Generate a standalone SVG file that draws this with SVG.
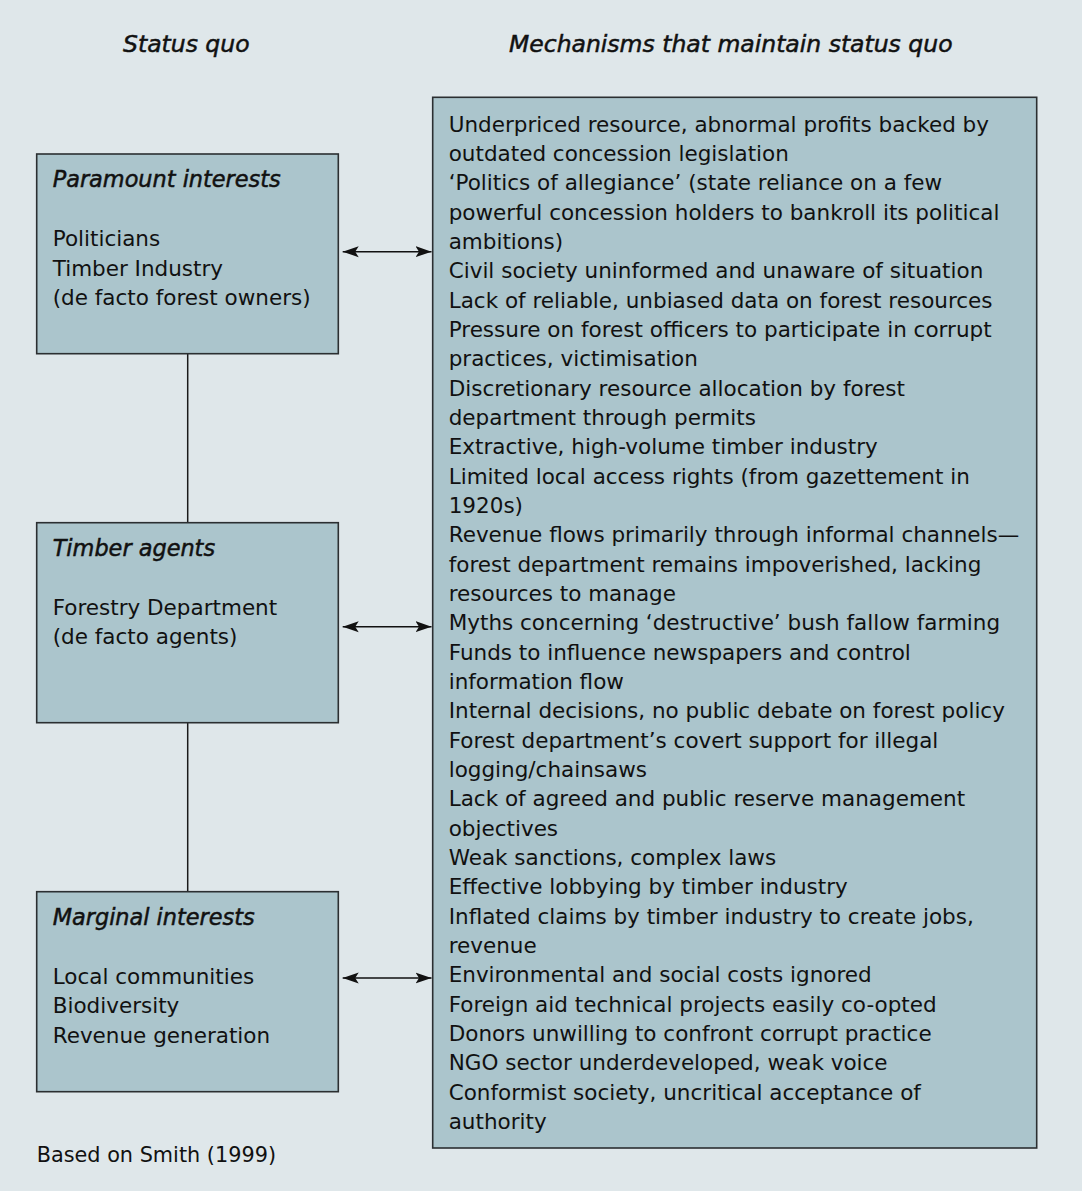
<svg xmlns="http://www.w3.org/2000/svg" width="1082" height="1191" viewBox="0 0 1082 1191">
<style>
.bg{fill:#dfe7ea}
.box{fill:#abc5cc;stroke:#2b2f31;stroke-width:1.6}
.t{font-family:"DejaVu Sans",Verdana,sans-serif;font-size:21.5px;fill:#111}
.h{font-family:"DejaVu Sans",Verdana,sans-serif;font-size:23.5px;font-style:italic;fill:#111;stroke:#111;stroke-width:0.5}
.bt{font-family:"DejaVu Sans",Verdana,sans-serif;font-size:22.4px;font-style:italic;fill:#111;stroke:#111;stroke-width:0.5}
.ln{stroke:#1a1a1a;stroke-width:1.5;fill:none}
.ar{stroke:#111;stroke-width:1.6;fill:none;marker-start:url(#ah);marker-end:url(#ah)}
</style>
<defs>
<marker id="ah" markerUnits="userSpaceOnUse" markerWidth="17" markerHeight="13" refX="16" refY="6" orient="auto-start-reverse" viewBox="0 0 17 13">
<path d="M0,0.5 L16,6 L0,11.5 L3.5,6 Z" fill="#111"/>
</marker>
</defs>
<rect class="bg" x="0" y="0" width="1082" height="1191"/>
<text class="h" x="123" y="51.7">Status quo</text>
<text class="h" x="509" y="51.7">Mechanisms that maintain status quo</text>

<g id="connectors">
<line class="ln" x1="187.7" y1="353.7" x2="187.7" y2="522.7"/>
<line class="ln" x1="187.7" y1="722.7" x2="187.7" y2="891.7"/>
<line class="ar" x1="342.7" y1="251.7" x2="431.5" y2="251.7"/>
<line class="ar" x1="342.7" y1="626.7" x2="431.5" y2="626.7"/>
<line class="ar" x1="342.7" y1="978" x2="431.5" y2="978"/>
</g>

<g id="paramount">
<rect class="box" x="36.7" y="154" width="301.6" height="199.7"/>
<text class="bt" x="52.7" y="186.7">Paramount interests</text>
<text class="t" x="52.7" y="246">Politicians</text>
<text class="t" x="52.7" y="275.5">Timber Industry</text>
<text class="t" x="52.7" y="305">(de facto forest owners)</text>
</g>

<g id="timber-agents">
<rect class="box" x="36.7" y="522.7" width="301.6" height="200"/>
<text class="bt" x="52.7" y="555.7">Timber agents</text>
<text class="t" x="52.7" y="614.5">Forestry Department</text>
<text class="t" x="52.7" y="644">(de facto agents)</text>
</g>

<g id="marginal">
<rect class="box" x="36.7" y="891.7" width="301.6" height="200"/>
<text class="bt" x="52.7" y="924.5">Marginal interests</text>
<text class="t" x="52.7" y="983.5">Local communities</text>
<text class="t" x="52.7" y="1013">Biodiversity</text>
<text class="t" x="52.7" y="1042.5">Revenue generation</text>
</g>

<g id="mechanisms">
<rect class="box" x="432.7" y="97.3" width="604" height="1050.7"/>
<text class="t">
<tspan x="448.7" y="131.7">Underpriced resource, abnormal profits backed by</tspan>
<tspan x="448.7" dy="29.33">outdated concession legislation</tspan>
<tspan x="448.7" dy="29.33">‘Politics of allegiance’ (state reliance on a few</tspan>
<tspan x="448.7" dy="29.33">powerful concession holders to bankroll its political</tspan>
<tspan x="448.7" dy="29.33">ambitions)</tspan>
<tspan x="448.7" dy="29.33">Civil society uninformed and unaware of situation</tspan>
<tspan x="448.7" dy="29.33">Lack of reliable, unbiased data on forest resources</tspan>
<tspan x="448.7" dy="29.33">Pressure on forest officers to participate in corrupt</tspan>
<tspan x="448.7" dy="29.33">practices, victimisation</tspan>
<tspan x="448.7" dy="29.33">Discretionary resource allocation by forest</tspan>
<tspan x="448.7" dy="29.33">department through permits</tspan>
<tspan x="448.7" dy="29.33">Extractive, high-volume timber industry</tspan>
<tspan x="448.7" dy="29.33">Limited local access rights (from gazettement in</tspan>
<tspan x="448.7" dy="29.33">1920s)</tspan>
<tspan x="448.7" dy="29.33">Revenue flows primarily through informal channels—</tspan>
<tspan x="448.7" dy="29.33">forest department remains impoverished, lacking</tspan>
<tspan x="448.7" dy="29.33">resources to manage</tspan>
<tspan x="448.7" dy="29.33">Myths concerning ‘destructive’ bush fallow farming</tspan>
<tspan x="448.7" dy="29.33">Funds to influence newspapers and control</tspan>
<tspan x="448.7" dy="29.33">information flow</tspan>
<tspan x="448.7" dy="29.33">Internal decisions, no public debate on forest policy</tspan>
<tspan x="448.7" dy="29.33">Forest department’s covert support for illegal</tspan>
<tspan x="448.7" dy="29.33">logging/chainsaws</tspan>
<tspan x="448.7" dy="29.33">Lack of agreed and public reserve management</tspan>
<tspan x="448.7" dy="29.33">objectives</tspan>
<tspan x="448.7" dy="29.33">Weak sanctions, complex laws</tspan>
<tspan x="448.7" dy="29.33">Effective lobbying by timber industry</tspan>
<tspan x="448.7" dy="29.33">Inflated claims by timber industry to create jobs,</tspan>
<tspan x="448.7" dy="29.33">revenue</tspan>
<tspan x="448.7" dy="29.33">Environmental and social costs ignored</tspan>
<tspan x="448.7" dy="29.33">Foreign aid technical projects easily co-opted</tspan>
<tspan x="448.7" dy="29.33">Donors unwilling to confront corrupt practice</tspan>
<tspan x="448.7" dy="29.33">NGO sector underdeveloped, weak voice</tspan>
<tspan x="448.7" dy="29.33">Conformist society, uncritical acceptance of</tspan>
<tspan x="448.7" dy="29.33">authority</tspan>
</text>
</g>

<text class="t" x="36.7" y="1161.7" style="font-size:20.8px">Based on Smith (1999)</text>
</svg>
